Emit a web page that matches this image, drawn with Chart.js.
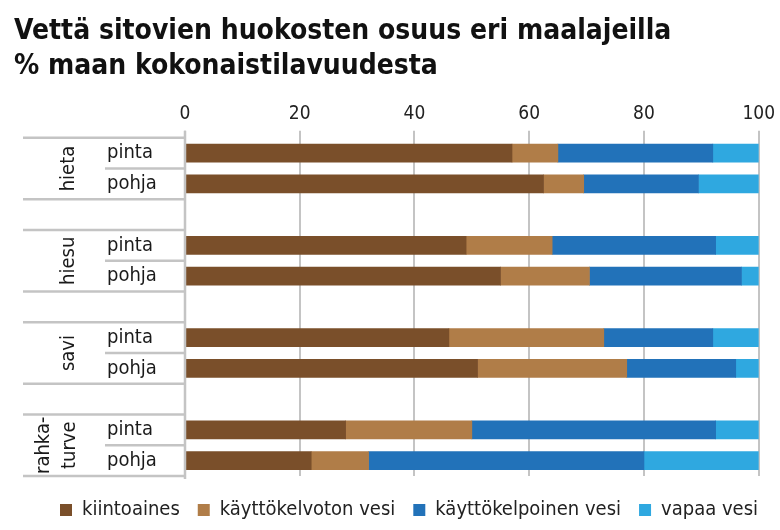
<!DOCTYPE html>
<html><head><meta charset="utf-8">
<script src="https://cdn.jsdelivr.net/npm/chart.js@4"></script>
<style>html,body{margin:0;padding:0;background:#fff}#wrap{position:relative;width:780px;height:530px}</style>
</head><body><div id="wrap"><canvas id="c"></canvas></div>
<script>
const titleLines = ['Vettä sitovien huokosten osuus eri maalajeilla', '% maan kokonaistilavuudesta'];
const rowLabels = ['pinta', 'pohja', '', 'pinta', 'pohja', '', 'pinta', 'pohja', '', 'pinta', 'pohja'];
const groupLabels = [['hieta'], ['hiesu'], ['savi'], ['rahka-', 'turve']];
const groupRows = [[0, 1], [3, 4], [6, 7], [9, 10]];
const seriesNames = ['kiintoaines', 'käyttökelvoton vesi', 'käyttökelpoinen vesi', 'vapaa vesi'];
const kiintoaines = [57, 62.5, null, 49, 55, null, 46, 51, null, 28, 22];
const kayttokelvoton = [8, 7, null, 15, 15.5, null, 27, 26, null, 22, 10];
const kayttokelpoinen = [27, 20, null, 28.5, 26.5, null, 19, 19, null, 42.5, 48];
const vapaa = [8, 10.5, null, 7.5, 3, null, 8, 4, null, 7.5, 20];
const xTicks = [0, 20, 40, 60, 80, 100];

const seriesColors = ['#7a4f2a', '#b07d48', '#2272b9', '#2fa8e0'];
const FONT = "'DejaVu Sans Condensed', 'Liberation Sans Narrow', sans-serif";
const LINE = '#c4c4c4';

const labelPlugin = {
  id: 'rowLabels',
  afterLayout(chart) {
    const lg = chart.legend;
    if (lg) { lg.left += 14; lg.right += 14; lg.top += 6; lg.bottom += 6; }
  },
  afterDraw(chart) {
    const ctx = chart.ctx, y = chart.scales.y, a = chart.chartArea;
    const step = y.getPixelForValue(1) - y.getPixelForValue(0);
    const top = y.getPixelForValue(0) - step / 2;
    ctx.save();
    ctx.strokeStyle = LINE;
    ctx.lineWidth = 2.5;
    ctx.beginPath(); ctx.moveTo(a.left, a.top - 7); ctx.lineTo(a.left, a.bottom + 3); ctx.stroke();
    for (let b = 0; b <= rowLabels.length; b++) {
      const py = top + b * step;
      const isShort = (b === 1 || b === 4 || b === 7 || b === 10);
      ctx.beginPath();
      ctx.moveTo(isShort ? 105 : 23, py);
      ctx.lineTo(a.left, py);
      ctx.stroke();
    }
    ctx.fillStyle = '#1a1a1a';
    ctx.textBaseline = 'middle';
    ctx.textAlign = 'left';
    ctx.font = '20px ' + FONT;
    rowLabels.forEach((t, i) => { if (t) ctx.fillText(t, 107, y.getPixelForValue(i)); });
    ctx.textAlign = 'center';
    groupLabels.forEach((lines, g) => {
      const cy = (y.getPixelForValue(groupRows[g][0]) + y.getPixelForValue(groupRows[g][1])) / 2;
      const xs = lines.length === 1 ? [69] : [44, 70];
      lines.forEach((t, k) => {
        ctx.save();
        ctx.translate(xs[k], cy);
        ctx.rotate(-Math.PI / 2);
        ctx.fillText(t, 0, 0);
        ctx.restore();
      });
    });
    ctx.restore();
  }
};

const seriesData = [kiintoaines, kayttokelvoton, kayttokelpoinen, vapaa];
new Chart(document.getElementById('c'), {
  type: 'bar',
  data: {
    labels: rowLabels.map((l, i) => l + '#' + i),
    datasets: seriesNames.map((n, i) => ({
      label: n, data: seriesData[i], backgroundColor: seriesColors[i], borderWidth: 0, barThickness: 18
    }))
  },
  options: {
    indexAxis: 'y',
    responsive: true,
    maintainAspectRatio: false,
    animation: false,
    layout: { padding: { left: 14, right: 4, top: 0, bottom: 6 } },
    scales: {
      x: {
        position: 'top', stacked: true, min: 0, max: 100,
        afterBuildTicks: s => { s.ticks = xTicks.map(v => ({ value: v })); },
        ticks: { font: { family: FONT, size: 19 }, color: '#222', padding: 5 },
        grid: { color: LINE, lineWidth: 2, tickLength: 7 },
        border: { display: false }
      },
      y: {
        stacked: true,
        ticks: { display: false },
        grid: { display: false },
        border: { display: false },
        afterFit: s => { s.width = 171; }
      }
    },
    plugins: {
      title: {
        display: true, text: titleLines, align: 'start', color: '#111',
        font: { family: FONT, size: 28, weight: 'bold', lineHeight: 1.25 },
        padding: { top: 14.5, bottom: 13.5 }
      },
      legend: {
        position: 'bottom',
        labels: { boxWidth: 12, boxHeight: 12, padding: 18, color: '#222', font: { family: FONT, size: 20 } }
      },
      tooltip: { enabled: false }
    }
  },
  plugins: [labelPlugin]
});
</script></body></html>
